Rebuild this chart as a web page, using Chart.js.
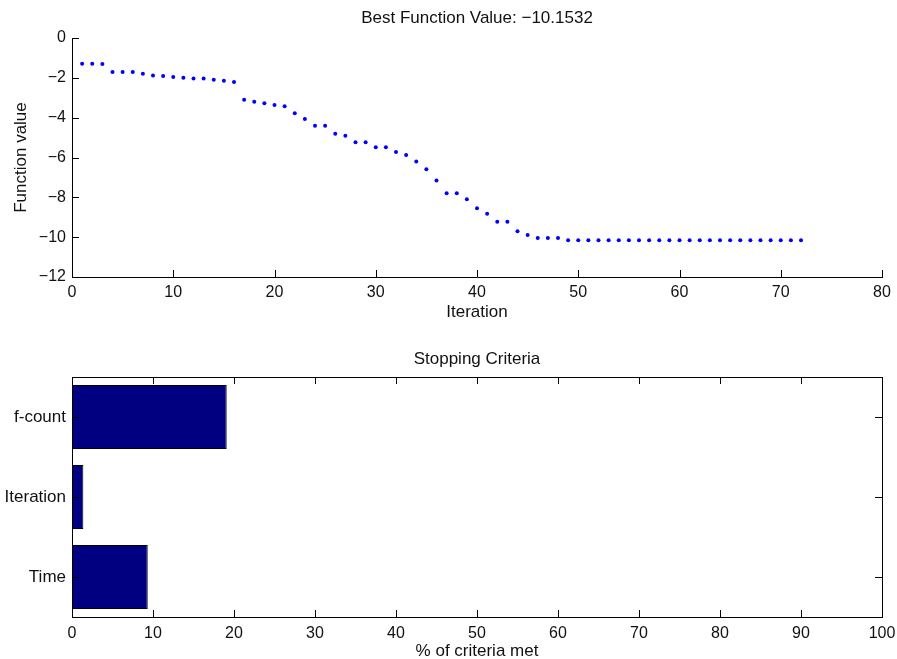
<!DOCTYPE html>
<html>
<head>
<meta charset="utf-8">
<script src="https://cdn.jsdelivr.net/npm/chart.js@4.4.1/dist/chart.umd.min.js"></script>
<style>
  html, body { margin: 0; padding: 0; background: #fff; overflow: hidden; }
  #top { position: absolute; left: 0; top: 0; }
  #bottom { position: absolute; left: 0; top: 330px; }
</style>
</head>
<body>
<canvas id="top" width="897" height="330"></canvas>
<canvas id="bottom" width="897" height="333"></canvas>
<script>
// best function value at each iteration (iteration = index + 1)
var fvals = [
  -1.29, -1.29, -1.31, -1.71, -1.71, -1.71, -1.79, -1.88, -1.91, -1.96,
  -2.00, -2.03, -2.03, -2.10, -2.15, -2.21, -3.10, -3.20, -3.28, -3.37,
  -3.43, -3.78, -4.07, -4.41, -4.41, -4.81, -4.91, -5.23, -5.23, -5.49,
  -5.49, -5.73, -5.87, -6.20, -6.59, -7.16, -7.79, -7.79, -8.09, -8.55,
  -8.83, -9.22, -9.22, -9.70, -9.89, -10.04, -10.04, -10.04, -10.1532, -10.1532,
  -10.1532, -10.1532, -10.1532, -10.1532, -10.1532, -10.1532, -10.1532, -10.1532, -10.1532, -10.1532,
  -10.1532, -10.1532, -10.1532, -10.1532, -10.1532, -10.1532, -10.1532, -10.1532, -10.1532, -10.1532,
  -10.1532, -10.1532
];
var criteria = ['f-count', 'Iteration', 'Time'];
var criteriaPct = [19.1, 1.4, 9.35];

var fontFam = '"Liberation Sans", Arial, Helvetica, sans-serif';
Chart.defaults.font.family = fontFam;
Chart.defaults.font.size = 17;
Chart.defaults.color = '#111';

function minus(v) {
  return v < 0 ? '\u2212' + Math.abs(v) : '' + v;
}

// keep the plot box where matlab put it, no extra room for end labels
function fixX(h) {
  return function (s) {
    s.height = h;
    s.paddingLeft = 0;
    s.paddingRight = 0;
  };
}

// matlab style ticks pointing into the plot
var inTicks = {
  id: 'inTicks',
  afterDraw: function (chart, args, opts) {
    var ctx = chart.ctx, a = chart.chartArea;
    var xs = chart.scales.x, ys = chart.scales.y;
    var len = 7;
    ctx.save();
    ctx.strokeStyle = '#000';
    ctx.lineWidth = 1;
    ctx.beginPath();
    xs.ticks.forEach(function (t, i) {
      var px = Math.round(xs.getPixelForTick(i)) + 0.5;
      ctx.moveTo(px, a.bottom);
      ctx.lineTo(px, a.bottom - len);
      if (opts.box) {
        ctx.moveTo(px, a.top);
        ctx.lineTo(px, a.top + len);
      }
    });
    ys.ticks.forEach(function (t, i) {
      var py = Math.round(ys.getPixelForTick(i)) + 0.5;
      ctx.moveTo(a.left, py);
      ctx.lineTo(a.left + len, py);
      if (opts.box) {
        ctx.moveTo(a.right, py);
        ctx.lineTo(a.right - len, py);
      }
    });
    ctx.stroke();
    if (opts.box) {
      ctx.strokeRect(Math.round(a.left) + 0.5, Math.round(a.top) + 0.5,
        Math.round(a.right - a.left), Math.round(a.bottom - a.top));
    }
    ctx.restore();
  }
};

var pts = fvals.map(function (v, i) { return { x: i + 1, y: v }; });

new Chart(document.getElementById('top'), {
  type: 'scatter',
  data: {
    datasets: [{
      data: pts,
      showLine: false,
      pointRadius: 2,
      pointBorderWidth: 0,
      pointBackgroundColor: '#0000ff'
    }]
  },
  options: {
    responsive: false,
    animation: false,
    layout: { padding: { left: 0, right: 15, top: 0, bottom: 0 } },
    plugins: {
      legend: { display: false },
      tooltip: { enabled: false },
      title: {
        display: true,
        text: 'Best Function Value: \u221210.1532',
        fullSize: false,
        font: { size: 17, weight: 'normal' },
        padding: { top: 8.3, bottom: 9.3 }
      },
      inTicks: { box: false }
    },
    scales: {
      x: {
        type: 'linear',
        min: 0, max: 80,
        ticks: { stepSize: 10, padding: 6, font: { size: 16 } },
        grid: { display: false, drawTicks: false },
        border: { display: true, color: '#000', width: 1 },
        title: { display: true, text: 'Iteration', padding: { top: 0, bottom: 7.8 } },
        afterFit: fixX(53)
      },
      y: {
        min: -12, max: 0,
        ticks: { stepSize: 2, padding: 6, font: { size: 16 }, callback: minus },
        grid: { display: false, drawTicks: false },
        border: { display: true, color: '#000', width: 1 },
        title: { display: true, text: 'Function value', padding: { top: 10.8, bottom: 0 } },
        afterFit: function (s) { s.width = 72; }
      }
    }
  },
  plugins: [inTicks]
});

new Chart(document.getElementById('bottom'), {
  type: 'bar',
  data: {
    labels: criteria,
    datasets: [{
      data: criteriaPct,
      backgroundColor: '#000080',
      borderColor: '#000',
      borderWidth: 1,
      barPercentage: 0.8,
      categoryPercentage: 1
    }]
  },
  options: {
    indexAxis: 'y',
    responsive: false,
    animation: false,
    layout: { padding: { left: 0, right: 15, top: 0, bottom: 0 } },
    plugins: {
      legend: { display: false },
      tooltip: { enabled: false },
      title: {
        display: true,
        text: 'Stopping Criteria',
        fullSize: false,
        font: { size: 17, weight: 'normal' },
        padding: { top: 19.1, bottom: 7.5 }
      },
      inTicks: { box: true }
    },
    scales: {
      x: {
        type: 'linear',
        min: 0, max: 100,
        ticks: { stepSize: 10, padding: 7, font: { size: 16 } },
        grid: { display: false, drawTicks: false },
        border: { display: false },
        title: { display: true, text: '% of criteria met', padding: { top: 0, bottom: 1.1 } },
        afterFit: fixX(46)
      },
      y: {
        ticks: { padding: 6 },
        grid: { display: false, drawTicks: false },
        border: { display: false },
        afterFit: function (s) { s.width = 72; }
      }
    }
  },
  plugins: [inTicks]
});
</script>
</body>
</html>
